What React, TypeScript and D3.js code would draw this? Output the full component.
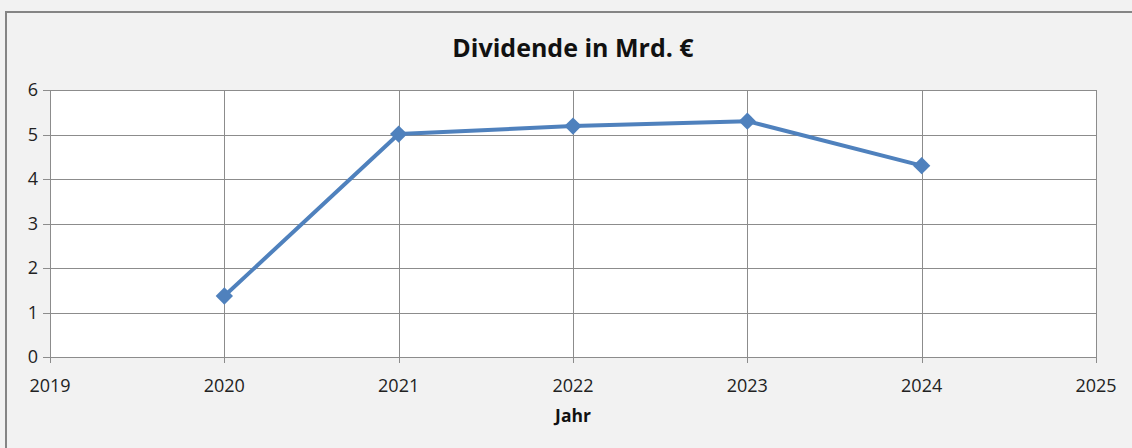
import { useEffect, useRef } from "react";
import * as d3 from "d3";

const years = [2020, 2021, 2022, 2023, 2024];
const dividends = [1.37, 5.01, 5.19, 5.3, 4.3];
const xTicks = [2019, 2020, 2021, 2022, 2023, 2024, 2025];
const yTicks = [0, 1, 2, 3, 4, 5, 6];

const W = 1132;
const H = 448;
const FONT = "'Open Sans', 'Noto Sans', sans-serif";

export default function App() {
  const ref = useRef<SVGSVGElement>(null);

  useEffect(() => {
    const svg = d3.select(ref.current);
    svg.selectAll("*").remove();

    const left = 50, right = 1096, top = 90, bottom = 357;
    const x = d3.scaleLinear().domain([2019, 2025]).range([left, right]);
    const y = d3.scaleLinear().domain([0, 6]).range([bottom, top]);

    // chart background + frame
    svg.append("rect").attr("width", W).attr("height", H).attr("fill", "#f2f2f2");
    svg
      .append("rect")
      .attr("x", 6)
      .attr("y", 12)
      .attr("width", W + 20)
      .attr("height", H + 20)
      .attr("fill", "#f2f2f2")
      .attr("stroke", "#858585")
      .attr("stroke-width", 2);

    // plot area
    svg
      .append("rect")
      .attr("x", left)
      .attr("y", top)
      .attr("width", right - left)
      .attr("height", bottom - top)
      .attr("fill", "#fff");

    const grid = svg.append("g").attr("stroke", "#8c8c8c").attr("stroke-width", 1);
    yTicks.forEach((t) => {
      grid
        .append("line")
        .attr("x1", left - 7)
        .attr("x2", right)
        .attr("y1", Math.round(y(t)) + 0.5)
        .attr("y2", Math.round(y(t)) + 0.5);
    });
    xTicks.forEach((t) => {
      grid
        .append("line")
        .attr("x1", Math.round(x(t)) + 0.5)
        .attr("x2", Math.round(x(t)) + 0.5)
        .attr("y1", top)
        .attr("y2", bottom + 6);
    });

    // y labels
    svg
      .append("g")
      .selectAll("text")
      .data(yTicks)
      .join("text")
      .attr("x", 38)
      .attr("y", (d) => y(d) + 6)
      .attr("text-anchor", "end")
      .style("font-family", FONT)
      .style("font-size", "18px")
      .attr("fill", "#222")
      .text((d) => d);

    // x labels
    svg
      .append("g")
      .selectAll("text")
      .data(xTicks)
      .join("text")
      .attr("x", (d) => x(d))
      .attr("y", 392)
      .attr("text-anchor", "middle")
      .style("font-family", FONT)
      .style("font-size", "18px")
      .attr("fill", "#222")
      .text((d) => d);

    // line
    const pts = years.map((yr, i) => [x(yr), y(dividends[i])] as [number, number]);
    svg
      .append("path")
      .attr("d", d3.line()(pts))
      .attr("fill", "none")
      .attr("stroke", "#4f81bd")
      .attr("stroke-width", 4)
      .attr("stroke-linejoin", "round");

    svg
      .append("g")
      .selectAll("path")
      .data(pts)
      .join("path")
      .attr("d", d3.symbol(d3.symbolSquare, 150)() as string)
      .attr("transform", (d) => `translate(${d[0]},${d[1]}) rotate(45)`)
      .attr("fill", "#4f81bd");

    // titles
    svg
      .append("text")
      .attr("x", (left + right) / 2)
      .attr("y", 57)
      .attr("text-anchor", "middle")
      .style("font-family", FONT)
      .style("font-size", "25px")
      .style("font-weight", "bold")
      .attr("fill", "#111")
      .text("Dividende in Mrd. €");

    svg
      .append("text")
      .attr("x", (left + right) / 2)
      .attr("y", 422)
      .attr("text-anchor", "middle")
      .style("font-family", FONT)
      .style("font-size", "17.5px")
      .style("font-weight", "bold")
      .attr("fill", "#111")
      .text("Jahr");
  }, []);

  return (
    <svg
      ref={ref}
      width={W}
      height={H}
      style={{ position: "absolute", left: 0, top: 0, display: "block" }}
    ></svg>
  );
}
